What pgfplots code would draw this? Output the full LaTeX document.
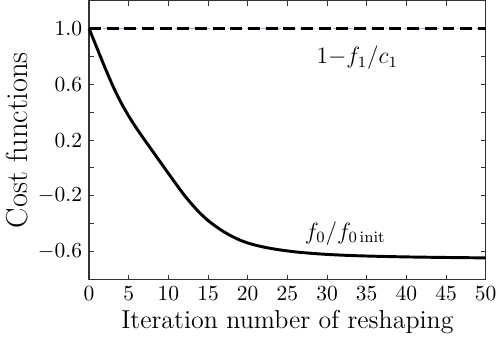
\documentclass[border=0pt]{standalone}
\usepackage{pgfplots}
\pgfplotsset{compat=1.18}
\begin{document}
\begin{tikzpicture}
\begin{axis}[
  scale only axis,
  width=202pt, height=142pt,
  xmin=0, xmax=50, ymin=-0.8, ymax=1.2,
  xtick={0,5,...,50},
  ytick={-0.6,-0.2,0.2,0.6,1.0},
  minor ytick={-0.4,0,0.4,0.8},
  tick align=inside,
  major tick length=2.5pt, minor tick length=2.5pt,
  tick style={black!80, line width=0.5pt},
  axis line style={black!80, line width=0.7pt},
  yticklabel style={/pgf/number format/.cd, fixed, fixed zerofill, precision=1},
  ticklabel style={font=\fontsize{10.6}{12}\selectfont},
  xlabel={Iteration number of reshaping},
  ylabel={Cost functions},
  xlabel style={font=\fontsize{13.2}{15}\selectfont, yshift=2pt},
  ylabel style={font=\fontsize{15.5}{18}\selectfont, yshift=-2pt},
  clip=false,
]
\addplot[cyan!40!blue!40, line width=0.3pt, dash dot] coordinates {(0,1.0) (50,1.0)};
\addplot[black, line width=1.7pt, dash pattern=on 6pt off 3pt] coordinates {(0,1.0) (50,1.0)};
\addplot[black, line width=1.5pt, smooth, tension=0.5] coordinates {
(0,1.0) (1,0.86) (2,0.72) (3,0.588) (4,0.472) (5,0.372) (6,0.283) (7,0.201)
(8,0.121) (9,0.041) (10,-0.039) (11,-0.118) (12,-0.195) (13,-0.263) (14,-0.325)
(15,-0.377) (16,-0.42) (17,-0.458) (18,-0.49) (19,-0.517) (20,-0.538) (21,-0.554)
(22,-0.567) (23,-0.578) (24,-0.587) (26,-0.602) (28,-0.612) (30,-0.62) (33,-0.628) (36,-0.633)
(40,-0.638) (45,-0.642) (50,-0.645)};
\node[font=\fontsize{12}{14}\selectfont] at (axis cs:33.8,0.79) {$1{-}f_1/c_1$};
\node[font=\fontsize{12}{14}\selectfont] at (axis cs:32.3,-0.47) {$f_0/f_{0\,\mathrm{init}}$};
\end{axis}
\end{tikzpicture}
\end{document}
